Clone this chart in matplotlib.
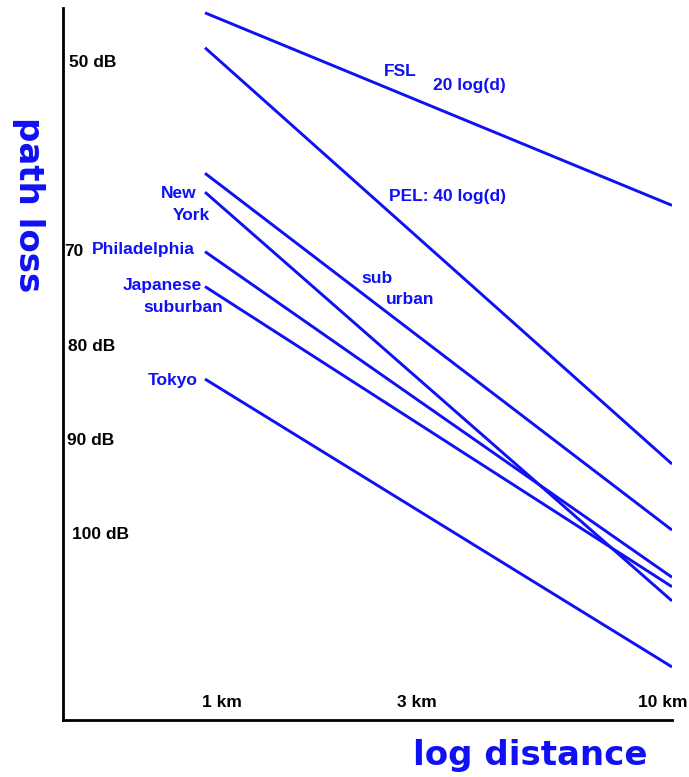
import matplotlib
matplotlib.use('Agg')
import matplotlib.pyplot as plt
import matplotlib.transforms as mtransforms

    ###################
    # data (km, dB)   #
    ###################

dist_km = [1, 10]
fsl = [45.0, 65.4]
pel = [48.7, 92.8]
suburban = [62.0, 99.8]
new_york = [64.0, 107.3]
philadelphia = [70.3, 104.8]
japanese = [74.0, 105.8]
tokyo = [83.8, 114.3]

y_ticks = [50, 70, 80, 90, 100]
y_tick_labels = ['50 dB', '70', '80 dB', '90 dB', '100 dB']
y_tick_x = [0.010, 0.002, 0.008, 0.007, 0.015]   # axes fraction
x_ticks = [1, 3, 10]
x_tick_labels = ['1 km', '3 km', '10 km']
x_tick_dx = [12, -8, -7]   # points

BLUE = '#1010f5'
plt.rcParams['font.family'] = ['Liberation Sans', 'DejaVu Sans']

fig = plt.figure(figsize=(6.89, 7.77), dpi=100)
ax = fig.add_axes([63/689, 1-720/777, 609/689, 712/777])
ax.set_xscale('log')
ax.set_xlim(0.4965, 10)
ax.set_ylim(119.92, 44.49)

for s in [fsl, pel, suburban, new_york, philadelphia, japanese, tokyo]:
    ax.plot(dist_km, s, color=BLUE, lw=2.1, solid_capstyle='butt')

    ##########
    # axes   #
    ##########
ax.spines['top'].set_visible(False)
ax.spines['right'].set_visible(False)
ax.spines['left'].set_linewidth(2)
ax.spines['bottom'].set_linewidth(2)
ax.set_xticks([])
ax.set_yticks([])
ax.minorticks_off()

blend_y = mtransforms.blended_transform_factory(ax.transAxes, ax.transData)
for v, lbl, xf in zip(y_ticks, y_tick_labels, y_tick_x):
    ax.text(xf, v + 0.3, lbl, transform=blend_y, ha='left', va='center',
            fontsize=12.5, fontweight='bold', color='black')

blend_x = mtransforms.blended_transform_factory(ax.transData, ax.transAxes)
for v, lbl, dx in zip(x_ticks, x_tick_labels, x_tick_dx):
    ax.annotate(lbl, (v, 0.025), xycoords=blend_x, xytext=(dx, 0),
                textcoords='offset points', ha='center', va='center',
                fontsize=12.5, fontweight='bold', color='black')

    ##################
    # curve labels   #
    ##################
lab = dict(color=BLUE, fontsize=12.5, fontweight='bold')
ax.text(2.616, 51.2, 'FSL', ha='center', va='center', **lab)
ax.text(3.69, 52.65, '20 log(d)', ha='center', va='center', **lab)
ax.text(3.31, 64.5, 'PEL: 40 log(d)', ha='center', va='center', **lab)
ax.text(2.335, 73.2, 'sub', ha='center', va='center', **lab)
ax.text(2.75, 75.4, 'urban', ha='center', va='center', **lab)
ax.text(0.957, 64.1, 'New', ha='right', va='center', **lab)
ax.text(1.025, 66.5, 'York', ha='right', va='center', **lab)
ax.text(0.737, 70.1, 'Philadelphia', ha='center', va='center', **lab)
ax.text(0.985, 73.9, 'Japanese', ha='right', va='center', **lab)
ax.text(1.093, 76.2, 'suburban', ha='right', va='center', **lab)
ax.text(0.854, 84.0, 'Tokyo', ha='center', va='center', **lab)

    ##################
    # axis titles    #
    ##################
fig.text(28/689, 1-205/777, 'path loss', rotation=-90, ha='center', va='center',
         color=BLUE, fontsize=24.5, fontweight='bold', family='DejaVu Sans')
fig.text(530/689, 1-755/777, 'log distance', ha='center', va='center',
         color=BLUE, fontsize=24.5, fontweight='bold', family='DejaVu Sans')

fig.savefig('out.png', dpi=100)
